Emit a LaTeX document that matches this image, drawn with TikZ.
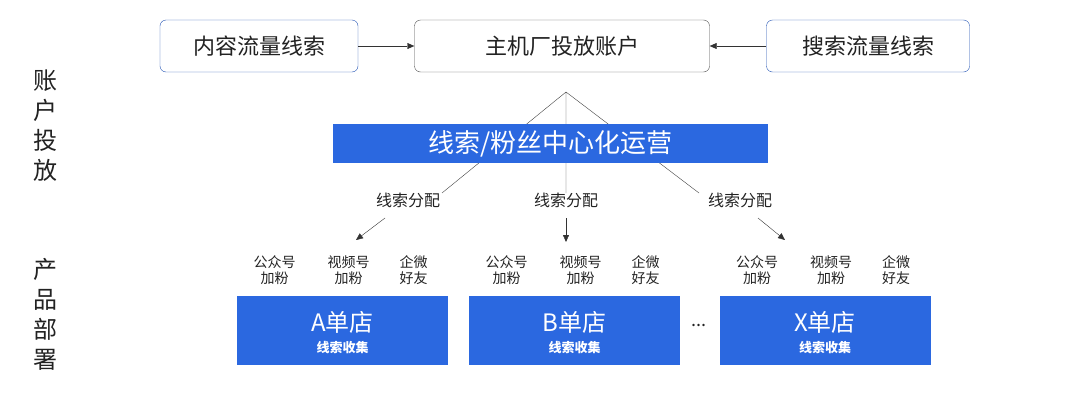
\documentclass[tikz,border=0pt]{standalone}
\usepackage{fontspec}
\setmainfont{Noto Sans CJK SC}
\usetikzlibrary{arrows.meta}
\definecolor{bblue}{HTML}{2B68E0}
\definecolor{txt}{HTML}{222222}
\begin{document}
\begin{tikzpicture}[x=1pt,y=-1pt,
 topbox/.style={draw=black!70,rounded corners=6pt,minimum height=52pt,font=\fontsize{22}{24}\selectfont,text=txt},
 sidebox/.style={topbox,draw=bblue!80!black},
 bluebox/.style={fill=bblue,text=white,inner sep=0pt},
 lbl/.style={font=\fontsize{16}{18}\selectfont,text=txt},
 sub/.style={font=\fontsize{14}{16}\selectfont\itshape,text=txt,align=center,inner sep=0pt},
 arr/.style={-{Triangle[length=7pt,width=6pt]},black!80},
 side/.style={font=\fontsize{24}{30}\selectfont,text=txt,align=center,inner sep=0pt}]
\useasboundingbox (0,0) rectangle (1080,402);
\node[topbox,minimum width=295pt] (main) at (562,46) {主机厂投放账户};
\node[sidebox,minimum width=198pt] (nr) at (259,46) {内容流量线索};
\node[sidebox,minimum width=203pt] (ss) at (868,46) {搜索流量线索};
\draw[arr] (nr) -- (main);
\draw[arr] (ss) -- (main);
\coordinate (apex) at (566,92);
\coordinate (l1) at (442,193);
\coordinate (l2) at (566,193);
\coordinate (l3) at (699,193);
\draw[black!75] (apex) -- (l1) (apex) -- (l2) (apex) -- (l3);
\node[bluebox,minimum width=435pt,minimum height=39pt,font=\fontsize{26}{28}\selectfont] (bar) at (550.5,143.5) {线索/粉丝中心化运营};
\node[lbl] (f1) at (408,200) {线索分配};
\node[lbl] (f2) at (566,200) {线索分配};
\node[lbl] (f3) at (740,200) {线索分配};
\coordinate (a1s) at (385,218); \coordinate (a1e) at (356,240);
\coordinate (a2s) at (566,218); \coordinate (a2e) at (566,242);
\coordinate (a3s) at (758,218); \coordinate (a3e) at (785,240);
\draw[arr] (a1s) -- (a1e);
\draw[arr] (a2s) -- (a2e);
\draw[arr] (a3s) -- (a3e);
\foreach \n/\x/\t in {A/342.5/A,B/574.5/B,X/825/X}{
 \node[bluebox,minimum width=211pt,minimum height=69pt] (s\n) at (\x,330.5) {};
 \node[text=white,font=\fontsize{24}{26}\selectfont] (t\n) at (\x,322) {\textit{\t}单店};
 \node[text=white,font=\fontsize{13}{15}\selectfont\bfseries] (c\n) at (\x,348) {线索收集};
 \node[sub] (g\n) at (\x-68,270) {公众号\\加粉};
 \node[sub] (v\n) at (\x+6,270) {视频号\\加粉};
 \node[sub] (q\n) at (\x+71,270) {企微\\好友};
}
\node[font=\fontsize{18}{20}\selectfont,text=txt] (dots) at (699,325) {...};
\node[side] (s1) at (45,126) {账\\户\\投\\放};
\node[side] (s2) at (45,314) {产\\品\\部\\署};
\end{tikzpicture}
\end{document}
